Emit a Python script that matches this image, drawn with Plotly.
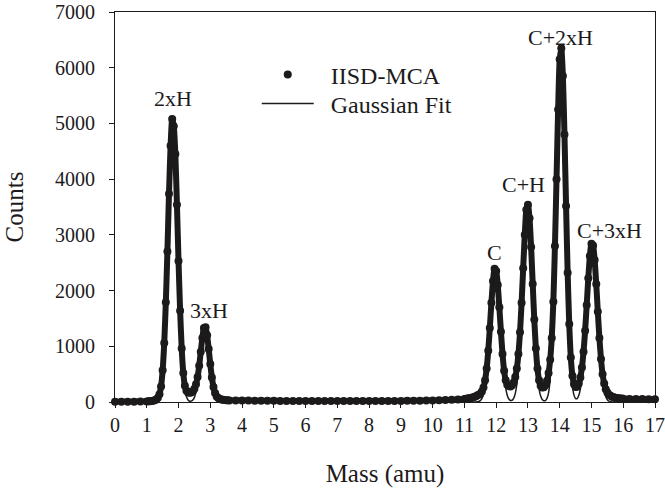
import plotly.graph_objects as go

# ---- sample positions (amu) ----
mass = ([0.0, 0.2, 0.4, 0.6, 0.8]
        + [round(1.0 + 0.05 * i, 2) for i in range(53)]      # 1.00 .. 3.60
        + [round(3.8 + 0.2 * i, 1) for i in range(36)]       # 3.8 .. 10.8
        + [round(11.0 + 0.05 * i, 2) for i in range(101)]    # 11.00 .. 16.00
        + [16.2, 16.4, 16.6, 16.8, 17.0])

meas_start = [5, 5, 5, 6, 8]
meas_h = [10, 12, 15, 18, 22, 30, 45, 75, 140, 280,
          570, 1060, 1790, 2700, 3740, 4600, 5080, 4950, 4450, 3540,
          2530, 1640, 960, 520, 290, 200, 170, 165, 170, 195,
          240, 320, 450, 650, 900, 1150, 1330, 1340, 1200, 950,
          680, 440, 270, 160, 100, 70, 55, 45, 40, 36,
          33, 30, 28]
meas_flat = [27, 26, 25, 24, 23, 22, 21, 20, 20, 19,
             19, 18, 18, 18, 17, 17, 17, 17, 17, 17,
             17, 18, 18, 18, 19, 19, 20, 21, 22, 23,
             25, 27, 30, 34, 39, 46]
meas_c = [55, 58, 62, 66, 72, 80, 90, 100, 115, 130,
          150, 190, 260, 390, 600, 920, 1330, 1780, 2170, 2390,
          2350, 2100, 1700, 1260, 860, 560, 390, 310, 285, 280,
          300, 350, 450, 600, 860, 1250, 1780, 2400, 3000, 3450,
          3540, 3300, 2780, 2120, 1480, 960, 600, 390, 290, 260,
          265, 300, 380, 520, 760, 1150, 1800, 2800, 4000, 5250,
          6150, 6350, 5850, 4800, 3520, 2320, 1400, 800, 470, 320,
          270, 275, 330, 440, 620, 900, 1280, 1740, 2220, 2620,
          2840, 2810, 2550, 2120, 1620, 1150, 770, 500, 330, 230,
          170, 130, 110, 95, 85, 78, 72, 68, 64, 61,
          58]
meas_end = [56, 54, 52, 50, 48]
counts_measured = meas_start + meas_h + meas_flat + meas_c + meas_end

# ---- Gaussian fit counts ----
fit_start = [0, 0, 0, 0, 0]
fit_h = [0, 0, 0, 0, 1, 5, 15, 43, 111, 262,
         554, 1049, 1781, 2719, 3720, 4569, 5036, 4982, 4423, 3525,
         2520, 1616, 931, 481, 223, 93, 36, 15, 16, 35,
         83, 181, 348, 585, 871, 1138, 1310, 1326, 1183, 928,
         640, 390, 209, 98, 41, 15, 5, 1, 0, 0,
         0, 0, 0]
fit_flat = [0] * 36
fit_c = [0, 0, 0, 0, 0, 0, 0, 1, 3, 9,
         24, 61, 138, 283, 522, 869, 1304, 1764, 2149, 2360,
         2336, 2083, 1674, 1213, 792, 466, 247, 118, 54, 28,
         31, 65, 150, 317, 612, 1061, 1661, 2341, 2974, 3405,
         3513, 3266, 2736, 2066, 1406, 862, 476, 237, 106, 45,
         22, 26, 65, 170, 405, 857, 1609, 2683, 3972, 5221,
         6094, 6315, 5811, 4747, 3444, 2217, 1268, 644, 292, 123,
         61, 62, 115, 230, 432, 742, 1163, 1664, 2172, 2586,
         2809, 2784, 2516, 2075, 1561, 1071, 670, 383, 200, 95,
         41, 16, 6, 2, 1, 0, 0, 0, 0, 0,
         0]
fit_end = [0, 0, 0, 0, 0]
counts_fit = fit_start + fit_h + fit_flat + fit_c + fit_end

# ---- peak labels ----
peak_labels = ["2xH", "3xH", "C", "C+H", "C+2xH", "C+3xH"]
peak_label_x = [1.82, 2.95, 11.95, 12.85, 14.03, 15.57]
peak_label_y = [5450, 1650, 2680, 3900, 6540, 3070]

x_ticks = list(range(0, 18))
y_ticks = list(range(0, 7001, 1000))

INK = "#1c1a1b"
FONT = "Liberation Serif"
NB = "\u00a0"

fig = go.Figure()
fig.add_trace(go.Scatter(
    x=mass, y=counts_measured, mode="lines+markers",
    line=dict(color=INK, width=6, shape="spline", smoothing=0.6),
    marker=dict(color=INK, size=8),
    cliponaxis=False, showlegend=False, name="IISD-MCA"))
fig.add_trace(go.Scatter(
    x=[None], y=[None], mode="markers",
    marker=dict(color=INK, size=8), name=NB * 2 + "IISD-MCA", legend="legend"))
fig.add_trace(go.Scatter(
    x=mass, y=counts_fit, mode="lines",
    line=dict(color=INK, width=1.5, shape="spline", smoothing=0.6),
    name=NB * 2 + "Gaussian Fit", legend="legend2"))

for t, xx, yy in zip(peak_labels, peak_label_x, peak_label_y):
    fig.add_annotation(x=xx, y=yy, text=t, showarrow=False,
                       xref="x", yref="y", xanchor="center", yanchor="middle",
                       font=dict(family=FONT, size=22, color=INK))

axis_common = dict(showline=True, linecolor=INK, linewidth=1, mirror=True,
                   ticks="outside", ticklen=5, tickwidth=1, tickcolor=INK,
                   showgrid=False, zeroline=False, automargin=False,
                   ticklabeloverflow="allow",
                   tickfont=dict(family=FONT, size=20, color=INK))

fig.update_xaxes(range=[0, 17], tickmode="array", tickvals=x_ticks,
                 ticktext=[str(v) for v in x_ticks], ticklabelstandoff=0,
                 title=dict(text="Mass (amu)", font=dict(family=FONT, size=25, color=INK),
                            standoff=29),
                 **axis_common)
fig.update_yaxes(range=[0, 7000], tickmode="array", tickvals=y_ticks,
                 ticktext=[str(v) for v in y_ticks], ticklabelstandoff=10,
                 title=dict(text="Counts", font=dict(family=FONT, size=25, color=INK),
                            standoff=24),
                 **axis_common)

legend_common = dict(xanchor="left", yanchor="middle",
                     font=dict(family=FONT, size=24, color=INK),
                     bgcolor="rgba(0,0,0,0)", itemwidth=52)

fig.update_layout(
    width=665, height=491,
    margin=dict(l=115, r=10, t=12, b=89),
    paper_bgcolor="white", plot_bgcolor="white",
    font=dict(family=FONT, size=20, color=INK),
    showlegend=True,
    legend=dict(x=0.2625, y=0.839, **legend_common),
    legend2=dict(x=0.2625, y=0.7645, **legend_common),
)

fig.write_html("out.html")
